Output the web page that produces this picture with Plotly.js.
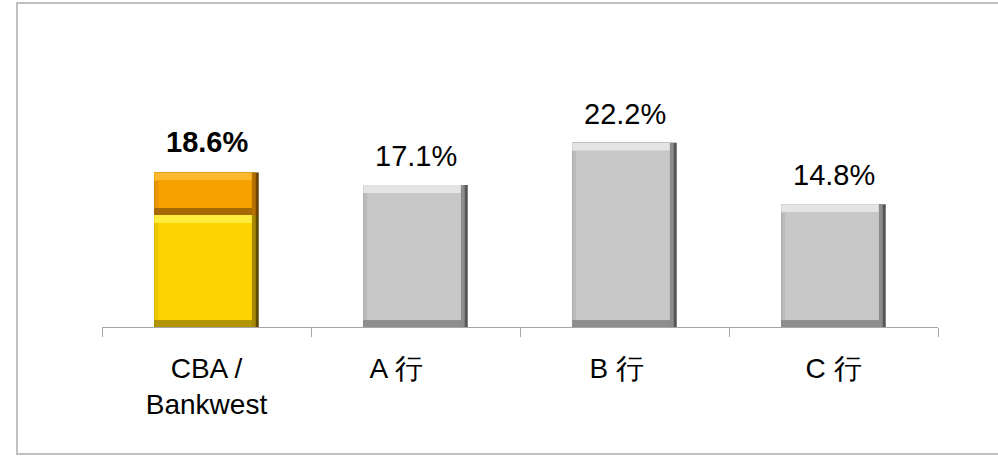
<!DOCTYPE html>
<html>
<head>
<meta charset="utf-8">
<script src="https://cdn.plot.ly/plotly-3.0.1.min.js"></script>
<style>
  html, body { margin: 0; padding: 0; width: 998px; height: 456px; overflow: hidden; background: #fff; }
  #frame { position: absolute; left: 16px; top: 2px; width: 1010px; height: 449px; border: 2px solid #bfbfbf; box-sizing: content-box; }
  #chart { position: absolute; left: 0; top: 0; width: 998px; height: 456px; }
</style>
</head>
<body>
<div id="frame"></div>
<div id="chart"></div>
<script>
// ---- data ----
const categories = ['CBA / Bankwest', 'A 行', 'B 行', 'C 行'];
const tickLabels = ['CBA /<br>Bankwest', 'A 行\u00a0\u00a0\u00a0\u00a0\u00a0', 'B 行\u00a0\u00a0', 'C 行'];
const totals = [18.6, 17.1, 22.2, 14.8];
const cbaLower = 13.5;   // yellow segment
const cbaUpper = 5.1;    // orange segment
const valueLabels = ['<b>18.6%</b>', '17.1%', '22.2%', '14.8%'];

// ---- styling ----
const palettes = {
  yellow: { face: '#fdd400', top: '#ffec3c', left: '#eec600', rightOuter: '#5e4a00', rightInner: '#a88a00', bottom: '#b39500' },
  orange: { face: '#f7a000', top: '#ffb92e', left: '#e89400', rightOuter: '#6e4200', rightInner: '#b57200', bottom: '#a66800' },
  gray:   { face: '#c8c8c8', top: '#e4e4e4', left: '#bababa', rightOuter: '#555555', rightInner: '#8c8c8c', bottom: '#8e8e8e' }
};

const W = 998, H = 456;
const margin = { l: 102, r: 60, t: 78, b: 129 };
const yMax = 30;
const pxPerX = (W - margin.l - margin.r) / categories.length;
const pxPerY = (H - margin.t - margin.b) / yMax;
const BW = 0.5;
const rOuter = 3 / pxPerX, rEdge = 7 / pxPerX, lEdge = 4 / pxPerX;
const tBand = 8 / pxPerY, bBand = 7 / pxPerY;

const segments = [
  { x: categories[0], base: 0, h: cbaLower, pal: palettes.yellow },
  { x: categories[0], base: cbaLower, h: cbaUpper, pal: palettes.orange },
  { x: categories[1], base: 0, h: totals[1], pal: palettes.gray },
  { x: categories[2], base: 0, h: totals[2], pal: palettes.gray },
  { x: categories[3], base: 0, h: totals[3], pal: palettes.gray }
];

function layer(fn) {
  const xs = [], ys = [], bases = [], widths = [], offsets = [], colors = [];
  segments.forEach(s => {
    const r = fn(s);
    xs.push(s.x); ys.push(r.h); bases.push(r.base);
    widths.push(r.w); offsets.push(r.off); colors.push(r.c);
  });
  return { type: 'bar', x: xs, y: ys, base: bases, width: widths, offset: offsets,
           marker: { color: colors, line: { width: 0 } }, hoverinfo: 'skip', showlegend: false };
}

const traces = [
  layer(s => ({ base: s.base, h: s.h, w: BW, off: -BW / 2, c: s.pal.rightOuter })),
  layer(s => ({ base: s.base, h: s.h, w: BW - rOuter, off: -BW / 2, c: s.pal.rightInner })),
  layer(s => ({ base: s.base, h: s.h, w: BW - rEdge, off: -BW / 2, c: s.pal.bottom })),
  layer(s => ({ base: s.base + bBand, h: s.h - bBand, w: BW - rEdge, off: -BW / 2, c: s.pal.left })),
  layer(s => ({ base: s.base + s.h - tBand, h: tBand, w: BW - rEdge, off: -BW / 2, c: s.pal.top })),
  layer(s => ({ base: s.base + bBand, h: s.h - bBand - tBand, w: BW - rEdge - lEdge, off: -BW / 2 + lEdge, c: s.pal.face }))
];

const annotations = categories.map((c, i) => ({
  x: c, y: totals[i], xref: 'x', yref: 'y', text: valueLabels[i],
  showarrow: false, yanchor: 'bottom', yshift: i === 0 ? 13 : 11,
  font: { family: 'Liberation Sans, Arial, sans-serif', size: 29, color: '#000' }
}));

const layout = {
  width: W, height: H,
  margin: margin,
  paper_bgcolor: 'rgba(0,0,0,0)',
  plot_bgcolor: 'rgba(0,0,0,0)',
  barmode: 'overlay',
  bargap: 0.5,
  xaxis: {
    type: 'category', categoryorder: 'array', categoryarray: categories,
    tickvals: categories, ticktext: tickLabels,
    range: [-0.5, categories.length - 0.5],
    tickson: 'boundaries', ticks: 'outside', ticklen: 9, tickwidth: 1, tickcolor: '#a6a6a6',
    showline: true, linecolor: '#a6a6a6', linewidth: 1,
    showgrid: false, zeroline: false,
    ticklabelstandoff: 16,
    tickfont: { family: 'Liberation Sans, Arial, sans-serif', size: 28, color: '#000' },
    fixedrange: true
  },
  yaxis: {
    range: [0, yMax], showgrid: false, zeroline: false, showticklabels: false,
    ticks: '', showline: false, fixedrange: true
  },
  annotations: annotations,
  showlegend: false
};

Plotly.newPlot('chart', traces, layout, { displayModeBar: false, staticPlot: true });
</script>
</body>
</html>
